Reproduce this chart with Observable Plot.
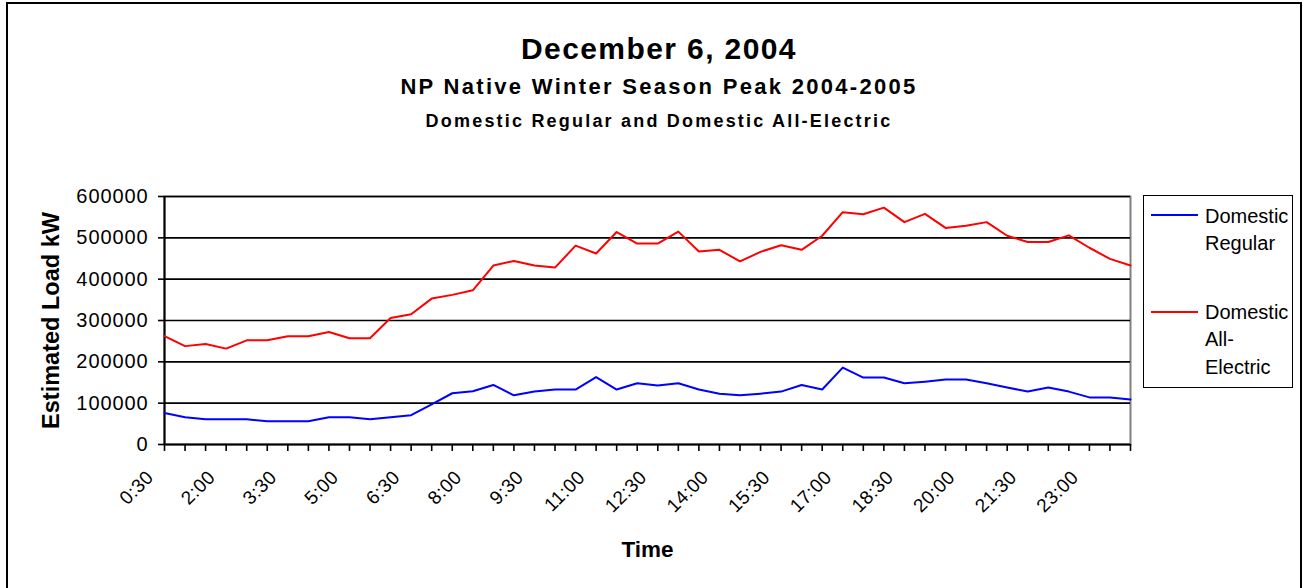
<!DOCTYPE html>
<html>
<head>
<meta charset="utf-8">
<script src="https://cdn.jsdelivr.net/npm/d3@7"></script>
<script src="https://cdn.jsdelivr.net/npm/@observablehq/plot@0.6"></script>
<style>
  html, body { margin: 0; padding: 0; background: #fff; }
  #page { position: relative; width: 1308px; height: 588px; overflow: hidden; font-family: "Liberation Sans", Arial, sans-serif; color: #000; }
  #border { position: absolute; left: 6px; top: 2px; width: 1296px; height: 600px; border: 2px solid #000; box-sizing: border-box; }
  .t { position: absolute; left: 0; width: 1318px; text-align: center; font-weight: bold; white-space: nowrap; }
  #chart { position: absolute; left: 0; top: 0; }
  #chart g[aria-label="y-axis tick label"] text { letter-spacing: 0.9px; }
  #chart g.xlab text { letter-spacing: 0.4px; }
  #legend { position: absolute; left: 1143px; top: 195px; width: 150px; height: 193px; border: 1.5px solid #000; box-sizing: border-box; background: #fff; }
  .lg-line { position: absolute; left: 1151px; width: 47px; height: 2px; }
  .lg-text { position: absolute; left: 1205px; font-size: 20px; line-height: 27.5px; white-space: nowrap; }
</style>
</head>
<body>
<div id="page">
  <div id="border"></div>
  <div id="chart"></div>
  <div class="t" style="top:33.6px;font-size:30px;line-height:30px;letter-spacing:1.4px;">December 6, 2004</div>
  <div class="t" style="top:76.4px;font-size:22px;line-height:22px;letter-spacing:2.3px;">NP Native Winter Season Peak 2004-2005</div>
  <div class="t" style="top:111.8px;font-size:18px;line-height:18px;letter-spacing:2.2px;">Domestic Regular and Domestic All-Electric</div>
  <div id="legend"></div>
  <div class="lg-line" style="top:214px;background:#0000ff;"></div>
  <div class="lg-text" style="top:202.6px;">Domestic<br>Regular</div>
  <div class="lg-line" style="top:310.7px;background:#ff0000;"></div>
  <div class="lg-text" style="top:298.6px;">Domestic<br>All-<br>Electric</div>
</div>
<script>
const times = ["0:30","1:00","1:30","2:00","2:30","3:00","3:30","4:00","4:30","5:00","5:30","6:00",
  "6:30","7:00","7:30","8:00","8:30","9:00","9:30","10:00","10:30","11:00","11:30","12:00",
  "12:30","13:00","13:30","14:00","14:30","15:00","15:30","16:00","16:30","17:00","17:30","18:00",
  "18:30","19:00","19:30","20:00","20:30","21:00","21:30","22:00","22:30","23:00","23:30","24:00"];

const tickLabels = ["0:30","2:00","3:30","5:00","6:30","8:00","9:30","11:00","12:30","14:00",
  "15:30","17:00","18:30","20:00","21:30","23:00"];

const yTicks = [0, 100000, 200000, 300000, 400000, 500000, 600000];

const seriesNames = ["Domestic Regular", "Domestic All-Electric"];
const seriesColors = ["#0000ff", "#ff0000"];

const domesticRegular = [76000, 66000, 61000, 61000, 61000, 56000, 56000, 56000, 66000, 66000, 61000, 66000,
  71000, 97000, 124000, 129000, 144000, 119000, 128000, 133000, 133000, 163000, 133000, 148000,
  143000, 148000, 133000, 123000, 119000, 123000, 128000, 144000, 133000, 186000, 162000, 162000,
  148000, 152000, 157000, 157000, 148000, 138000, 128000, 138000, 128000, 114000, 114000, 109000];

const domesticAllElectric = [262000, 238000, 243000, 232000, 252000, 252000, 262000, 262000, 272000, 257000, 257000, 306000,
  315000, 353000, 362000, 373000, 433000, 444000, 433000, 428000, 481000, 462000, 514000, 486000,
  486000, 515000, 467000, 471000, 443000, 466000, 482000, 471000, 505000, 562000, 557000, 573000,
  538000, 558000, 524000, 529000, 538000, 505000, 490000, 490000, 506000, 476000, 449000, 433000];

const data = [];
times.forEach((t, i) => {
  data.push({time: t, value: domesticRegular[i], series: seriesNames[0]});
  data.push({time: t, value: domesticAllElectric[i], series: seriesNames[1]});
});

const font = "'Liberation Sans', Arial, sans-serif";

const chart = Plot.plot({
  width: 1308,
  height: 588,
  marginLeft: 164,
  marginRight: 178,
  marginTop: 196,
  marginBottom: 144,
  style: {fontFamily: font, background: "transparent", overflow: "visible", color: "#000"},
  x: {type: "point", domain: times, padding: 0, round: false},
  y: {domain: [0, 600000]},
  color: {domain: seriesNames, range: seriesColors},
  marks: [
    Plot.frame({stroke: "#808080", strokeWidth: 2}),
    Plot.gridY(yTicks.slice(1), {stroke: "#000", strokeOpacity: 1, strokeWidth: 1.6}),
    Plot.ruleY([0], {stroke: "#000", strokeWidth: 2}),
    Plot.ruleX([times[0]], {stroke: "#000", strokeWidth: 2}),
    Plot.axisY({ticks: yTicks, tickFormat: d3.format("d"), tickSize: 6, tickPadding: 10,
      fontSize: 20, stroke: "#000", strokeWidth: 1.6, label: null}),
    Plot.axisX({ticks: times, tickFormat: () => "", tickSize: 7, stroke: "#000", strokeWidth: 1.6, label: null}),
    Plot.text(tickLabels, {x: d => d, frameAnchor: "bottom", dy: 34, dx: -10, rotate: -45,
      textAnchor: "end", lineAnchor: "bottom", fontSize: 19, fill: "#000", className: "xlab"}),
    Plot.line(data, {x: "time", y: "value", stroke: "series", strokeWidth: 2}),
    Plot.text(["Estimated Load kW"], {frameAnchor: "left", dx: -113, rotate: -90, fontSize: 23.5,
      fontWeight: "bold", fill: "#000", lineAnchor: "middle", textAnchor: "middle"}),
    Plot.text(["Time"], {frameAnchor: "bottom", dy: 112, fontSize: 22.5, fontWeight: "bold",
      fill: "#000", lineAnchor: "bottom"})
  ]
});
document.getElementById("chart").appendChild(chart);
</script>
</body>
</html>
